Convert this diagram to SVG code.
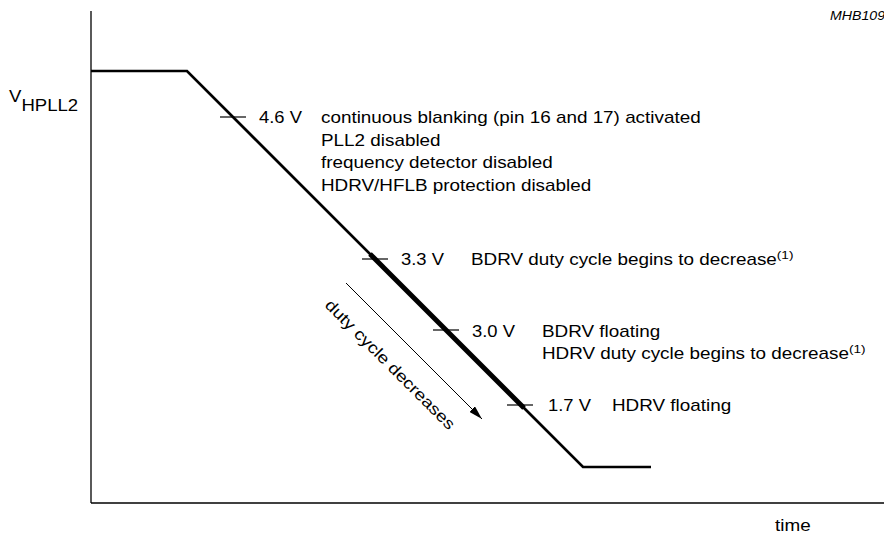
<svg xmlns="http://www.w3.org/2000/svg" width="884" height="535" viewBox="0 0 884 535">
<style>
text{font-family:"Liberation Sans",Arial,sans-serif;font-size:16px;fill:#000}
.ax{stroke:#000;stroke-width:1.3;fill:none}
.curve{stroke:#000;stroke-width:2.7;fill:none}
.tick{stroke:#000;stroke-width:1.2}
.sup{font-size:11.5px}
</style>
<defs>
<marker id="ah" markerWidth="14" markerHeight="8" refX="14" refY="4" orient="auto" markerUnits="userSpaceOnUse">
<path d="M0,0 L14,4 L0,8 Z" fill="#000"/>
</marker>
</defs>
<g id="axes">
<line class="ax" x1="91" y1="11" x2="91" y2="503"/>
<line class="ax" x1="91" y1="503" x2="884" y2="503"/>
</g>
<g id="connectors">
<polyline class="curve" points="91,71 187,71 583,467 651,467"/>
<line x1="370" y1="254" x2="524" y2="408" stroke="#000" stroke-width="5"/>
<line class="tick" x1="220" y1="117" x2="246" y2="117"/>
<line class="tick" x1="362" y1="259" x2="388" y2="259"/>
<line class="tick" x1="433" y1="330" x2="459" y2="330"/>
<line class="tick" x1="507" y1="405" x2="533" y2="405"/>
<line x1="346" y1="283" x2="482" y2="419" stroke="#000" stroke-width="1" marker-end="url(#ah)"/>
</g>
<g id="labels">
<text transform="translate(9,102) scale(1.16,1)">V<tspan dy="9">HPLL2</tspan></text>
<text transform="translate(830,20) scale(1.18,1)" font-style="italic" style="font-size:12px">MHB109</text>
<text transform="translate(775,531) scale(1.18,1)">time</text>
<text transform="translate(259,123) scale(1.15,1)">4.6 V</text>
<text transform="translate(321,123) scale(1.18,1)">continuous blanking (pin 16 and 17) activated</text>
<text transform="translate(321,145.5) scale(1.18,1)">PLL2 disabled</text>
<text transform="translate(321,168) scale(1.18,1)">frequency detector disabled</text>
<text transform="translate(321,191) scale(1.18,1)">HDRV/HFLB protection disabled</text>
<text transform="translate(401,265) scale(1.15,1)">3.3 V</text>
<text transform="translate(471,265) scale(1.18,1)">BDRV duty cycle begins to decrease<tspan class="sup" dy="-6">(1)</tspan></text>
<text transform="translate(472,337) scale(1.15,1)">3.0 V</text>
<text transform="translate(542,337) scale(1.18,1)">BDRV floating</text>
<text transform="translate(542,359) scale(1.18,1)">HDRV duty cycle begins to decrease<tspan class="sup" dy="-6">(1)</tspan></text>
<text transform="translate(548,411) scale(1.15,1)">1.7 V</text>
<text transform="translate(612,411) scale(1.18,1)">HDRV floating</text>
<text transform="translate(324,306) rotate(45) scale(1.18,1)">duty cycle decreases</text>
</g>
</svg>
